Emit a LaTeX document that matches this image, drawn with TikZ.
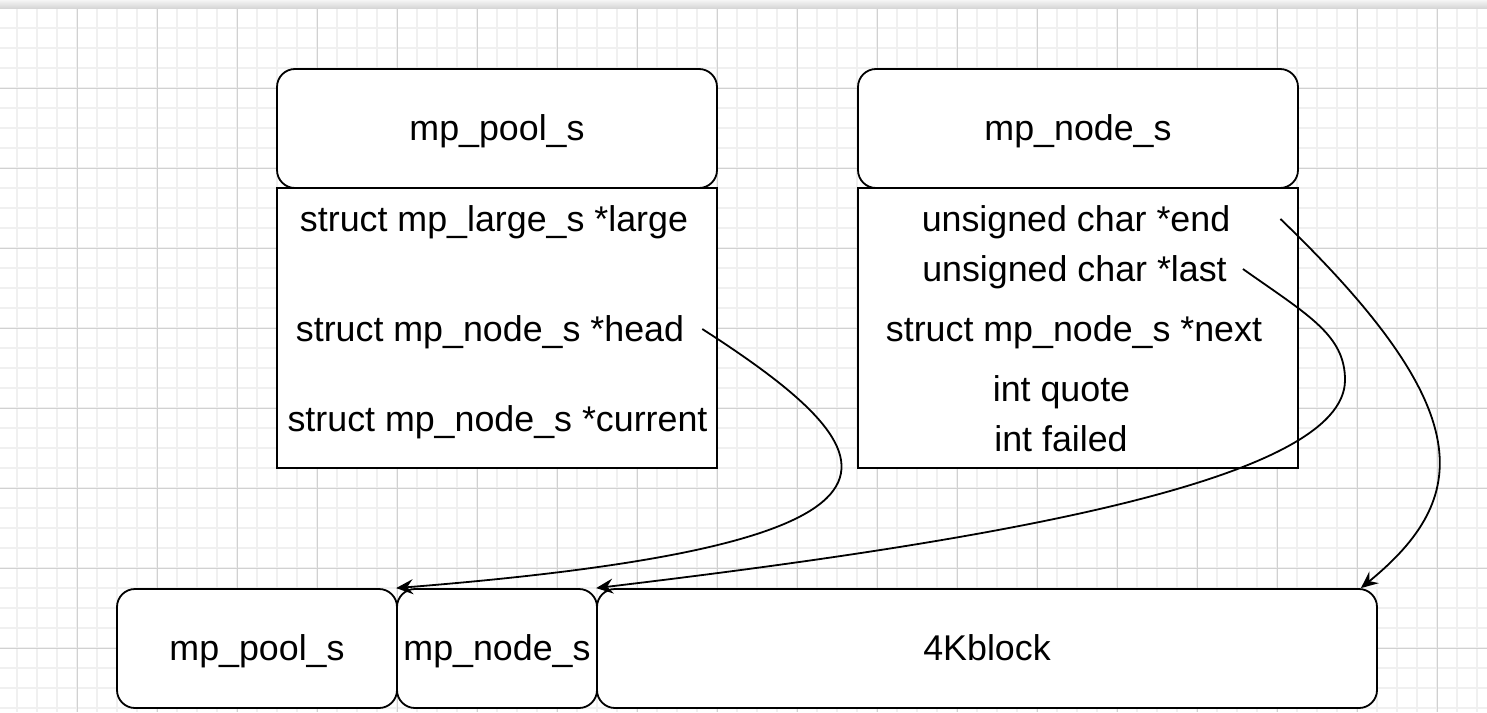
\documentclass[tikz,border=0pt]{standalone}
\usepackage{fontspec}
\setmainfont{Liberation Sans}
\usetikzlibrary{arrows.meta}
\tikzset{
  titlebox/.style={draw,line width=1.8pt,rounded corners=18pt,fill=white,minimum height=119pt,inner sep=0pt,text height=25pt,text depth=1pt},
  fieldbox/.style={draw,line width=1.8pt,fill=white,minimum height=280pt,inner sep=0pt},
  field/.style={inner sep=0pt,text height=25pt,text depth=1pt},
  link/.style={line width=1.8pt,-{Stealth[length=17pt,width=15pt,inset=6pt]}},
  minorline/.style={line width=1.6pt,color=black!6},
  majorline/.style={line width=1pt,color=black!18}
}
\begin{document}
\begin{tikzpicture}[x=1pt,y=-1pt,font=\fontsize{35.8}{43}\selectfont]
\useasboundingbox (0,0) rectangle (1487,712);
% grid
\foreach \gx in {-3,17,...,1487} \draw[minorline](\gx,8)--(\gx,712);
\foreach \gy in {28,48,...,712} \draw[minorline](0,\gy)--(1487,\gy);
\foreach \gx in {77,157,...,1487} \draw[majorline](\gx,8)--(\gx,712);
\foreach \gy in {88,168,...,712} \draw[majorline](0,\gy)--(1487,\gy);
\shade[top color=black!4,bottom color=black!16](0,0)rectangle(1487,8);
% mp_pool_s struct
\node[titlebox,minimum width=440pt](pooltitle) at (497,128.5){mp\_pool\_s};
\node[fieldbox,minimum width=440pt](poolbody) at (497,328){};
\node[field](plarge) at (494,219){struct mp\_large\_s *large};
\node[field](phead) at (490,329){struct mp\_node\_s *head};
\node[field](pcurrent) at (497.5,419){struct mp\_node\_s *current};
% mp_node_s struct
\node[titlebox,minimum width=440pt](nodetitle) at (1078,128.5){mp\_node\_s};
\node[fieldbox,minimum width=440pt](nodebody) at (1078,328){};
\node[field](nend) at (1076,219){unsigned char *end};
\node[field](nlast) at (1074.5,269){unsigned char *last};
\node[field](nnext) at (1074,329){struct mp\_node\_s *next};
\node[field](nquote) at (1061.5,389){int quote};
\node[field](nfailed) at (1061,439){int failed};
% memory layout
\node[titlebox,minimum width=280pt](poolbuf) at (257,648.5){mp\_pool\_s};
\node[titlebox,minimum width=200pt](nodebuf) at (497,648.5){mp\_node\_s};
\node[titlebox,minimum width=780pt](blk) at (987,648.5){4Kblock};
% links
\draw[link]([xshift=18pt]phead.east) .. controls (903,458) and (950,544) .. (nodebuf.north west);
\draw[link]([xshift=16pt]nlast.east) .. controls (1308,315) and (1345,335) .. (1345,380)
  .. controls (1345,480) and (1000,540) .. (blk.north west);
\draw[link]([xshift=50pt]nend.east) .. controls (1480,411) and (1471,498) .. ([xshift=-17pt]blk.north east);
\end{tikzpicture}
\end{document}
